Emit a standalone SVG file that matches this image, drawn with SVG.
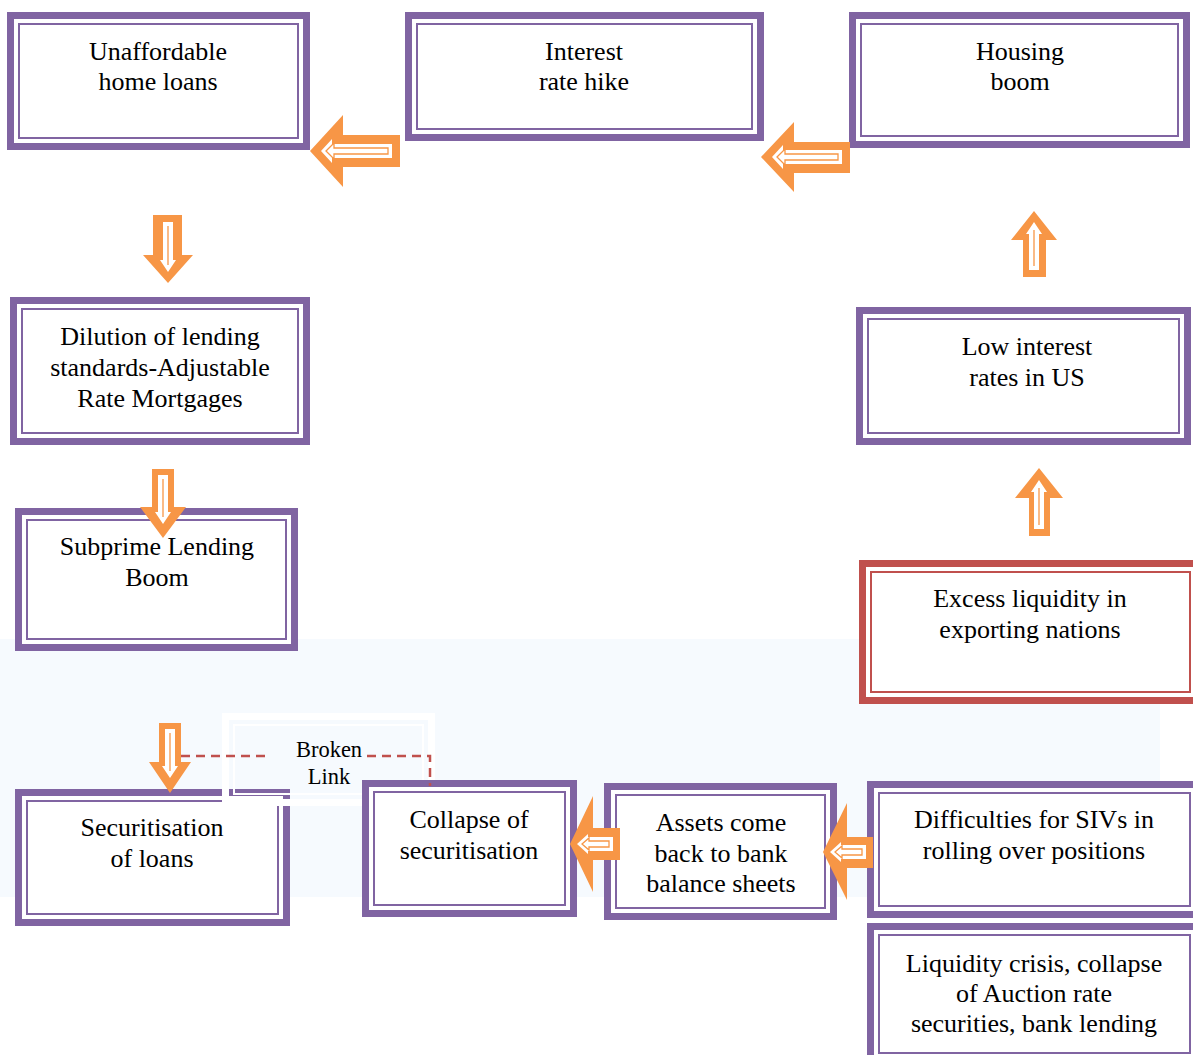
<svg xmlns="http://www.w3.org/2000/svg" width="1193" height="1055" viewBox="0 0 1193 1055">
<style>
.ob{fill:#fff;stroke:#8064A2;stroke-width:7}
.ib{fill:none;stroke:#8064A2;stroke-width:2}
.obr{fill:#fff;stroke:#C0504D;stroke-width:7}
.ibr{fill:none;stroke:#C0504D;stroke-width:2}
.t{font-family:"Liberation Serif","Times New Roman",serif;font-size:26px;fill:#000;text-anchor:middle}
.tb{font-family:"Liberation Serif","Times New Roman",serif;font-size:22.5px;fill:#000;text-anchor:middle}
.ao{fill:#F79646}
.ai{fill:#fff}
.al{fill:none;stroke:#F79646;stroke-width:1.3}
</style>
<rect x="0" y="0" width="1193" height="1055" fill="#fff"/>
<rect x="0" y="639" width="1160" height="258" fill="#F6FAFE"/>

<g id="n-unaffordable">
<rect class="ob" x="10.5" y="15.5" width="296" height="131"/>
<rect class="ib" x="19" y="24" width="279" height="114"/>
<text class="t" x="158" y="60">Unaffordable</text>
<text class="t" x="158" y="90">home loans</text>
</g>
<g id="n-interest-hike">
<rect class="ob" x="408.5" y="15.5" width="352" height="122"/>
<rect class="ib" x="417" y="24" width="335" height="105"/>
<text class="t" x="584" y="60">Interest</text>
<text class="t" x="584" y="90">rate hike</text>
</g>
<g id="n-housing-boom">
<rect class="ob" x="852.5" y="15.5" width="334" height="129"/>
<rect class="ib" x="861" y="24" width="317" height="112"/>
<text class="t" x="1020" y="60">Housing</text>
<text class="t" x="1020" y="90">boom</text>
</g>
<g id="n-dilution">
<rect class="ob" x="13.5" y="300.5" width="293" height="141"/>
<rect class="ib" x="22" y="309" width="276" height="124"/>
<text class="t" x="160" y="345">Dilution of lending</text>
<text class="t" x="160" y="376">standards-Adjustable</text>
<text class="t" x="160" y="407">Rate Mortgages</text>
</g>
<g id="n-subprime">
<rect class="ob" x="18.5" y="511.5" width="276" height="136"/>
<rect class="ib" x="27" y="520" width="259" height="119"/>
<text class="t" x="157" y="555">Subprime Lending</text>
<text class="t" x="157" y="586">Boom</text>
</g>
<g id="n-low-interest">
<rect class="ob" x="859.5" y="310.5" width="328" height="131"/>
<rect class="ib" x="868" y="319" width="311" height="114"/>
<text class="t" x="1027" y="355">Low interest</text>
<text class="t" x="1027" y="386">rates in US</text>
</g>
<g id="n-excess-liquidity">
<rect class="obr" x="862.5" y="563.5" width="336" height="137"/>
<rect class="ibr" x="871" y="572" width="319" height="120"/>
<text class="t" x="1030" y="607">Excess liquidity in</text>
<text class="t" x="1030" y="638">exporting nations</text>
</g>
<g id="n-securitisation">
<rect class="ob" x="18.5" y="792.5" width="268" height="130"/>
<rect class="ib" x="27" y="801" width="251" height="113"/>
<text class="t" x="152" y="836">Securitisation</text>
<text class="t" x="152" y="867">of loans</text>
</g>
<g id="broken-link-label">
<rect x="225.5" y="716.5" width="206" height="86" fill="none" stroke="#fff" stroke-width="7"/>
<rect x="234" y="725" width="189" height="69" fill="none" stroke="#fff" stroke-width="2"/>
<text class="tb" x="329" y="757">Broken</text>
<text class="tb" x="329" y="784">Link</text>
</g>
<g id="n-collapse">
<rect class="ob" x="365.5" y="783.5" width="208" height="130"/>
<rect class="ib" x="374" y="792" width="191" height="113"/>
<text class="t" x="469" y="828">Collapse of</text>
<text class="t" x="469" y="859">securitisation</text>
</g>
<g id="n-assets">
<rect class="ob" x="607.5" y="786.5" width="226" height="130"/>
<rect class="ib" x="616" y="795" width="209" height="113"/>
<text class="t" x="721" y="831">Assets come</text>
<text class="t" x="721" y="862">back to bank</text>
<text class="t" x="721" y="892">balance sheets</text>
</g>
<g id="n-sivs">
<rect class="ob" x="870.5" y="784.5" width="330" height="130"/>
<rect class="ib" x="879" y="793" width="311" height="113"/>
<text class="t" x="1034" y="828">Difficulties for SIVs in</text>
<text class="t" x="1034" y="859">rolling over positions</text>
</g>
<g id="n-liquidity-crisis">
<rect class="ob" x="870.5" y="926.5" width="330" height="135"/>
<rect class="ib" x="879" y="935" width="311" height="118"/>
<text class="t" x="1034" y="972">Liquidity crisis, collapse</text>
<text class="t" x="1034" y="1002">of Auction rate</text>
<text class="t" x="1034" y="1032">securities, bank lending</text>
</g>

<g id="connectors">
<path d="M181,756 H266 M367,756 H430 V786" fill="none" stroke="#C0504D" stroke-width="2.5" stroke-dasharray="9 6"/>

<path class="ao" d="M310,151 L343,115 L343,135 L400,135 L400,167 L343,167 L343,187 Z"/>
<path class="ai" d="M321,151 L332,139 L332,144 L392,144 L392,158 L332,158 L332,163 Z"/>
<path class="al" d="M326,151 L334,143 L334,148 L388,148 L388,154 L334,154 L334,159 Z"/>

<path class="ao" d="M761,157 L794,122 L794,142 L850,142 L850,173 L794,173 L794,192 Z"/>
<path class="ai" d="M772,157 L783,145 L783,150 L842,150 L842,164 L783,164 L783,169 Z"/>
<path class="al" d="M777,157 L785,149 L785,154 L838,154 L838,160 L785,160 L785,165 Z"/>

<path class="ao" d="M570,844 L593,796 L593,828 L620,828 L620,860 L593,860 L593,892 Z"/>
<path class="ai" d="M577,844 L588,834 L588,837 L613,837 L613,851 L588,851 L588,854 Z"/>
<path class="al" d="M582,844 L589,838 L589,841 L609,841 L609,847 L589,847 L589,850 Z"/>

<path class="ao" d="M823,852 L847,803 L847,837 L873,837 L873,868 L847,868 L847,900 Z"/>
<path class="ai" d="M830,852 L841,842 L841,845 L866,845 L866,859 L841,859 L841,862 Z"/>
<path class="al" d="M835,852 L842,846 L842,849 L862,849 L862,855 L842,855 L842,858 Z"/>

<path class="ao" d="M153,215 L182,215 L182,255 L193,255 L168,283 L143,255 L153,255 Z"/>
<path class="ai" d="M163,222 L173,222 L173,260 L176,260 L168,272 L160,260 L163,260 Z"/>
<path class="al" d="M168,226 V265"/>

<path class="ao" d="M152,469 L174,469 L174,507 L186,507 L163,538 L140,507 L152,507 Z"/>
<path class="ai" d="M158,475 L168,475 L168,512 L171,512 L163,524 L155,512 L158,512 Z"/>
<path class="al" d="M163,479 V517"/>

<path class="ao" d="M159,723 L181,723 L181,762 L191,762 L170,793 L149,762 L159,762 Z"/>
<path class="ai" d="M165,729 L175,729 L175,766 L178,766 L170,778 L162,766 L165,766 Z"/>
<path class="al" d="M170,733 V771"/>

<path class="ao" d="M1034,211 L1057,240 L1046,240 L1046,277 L1023,277 L1023,240 L1011,240 Z"/>
<path class="ai" d="M1034,222 L1042,234 L1039,234 L1039,270 L1029,270 L1029,234 L1026,234 Z"/>
<path class="al" d="M1034,230 V266"/>

<path class="ao" d="M1039,468 L1063,498 L1050,498 L1050,536 L1029,536 L1029,498 L1015,498 Z"/>
<path class="ai" d="M1039,480 L1047,492 L1044,492 L1044,529 L1034,529 L1034,492 L1031,492 Z"/>
<path class="al" d="M1039,488 V525"/>
</g>
</svg>
